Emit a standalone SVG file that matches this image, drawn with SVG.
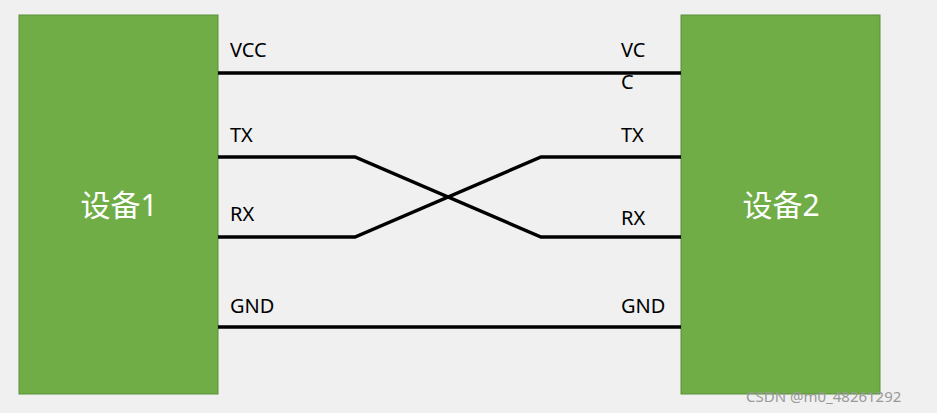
<svg xmlns="http://www.w3.org/2000/svg" width="937" height="413" viewBox="0 0 937 413">
<style>
.box{fill:#70ad47;stroke:#5a8f38;stroke-width:1}
.w{fill:none;stroke:#000;stroke-width:3.5}
.t{font-family:"Noto Sans","Noto Sans CJK SC",sans-serif;font-size:20px;fill:#000}
.d{font-family:"Noto Sans","Noto Sans CJK SC",sans-serif;font-size:30px;fill:#fff;text-anchor:middle}
.wm{font-family:"Noto Sans","Noto Sans CJK SC",sans-serif;font-size:15px;fill:#999}
</style>
<rect width="937" height="413" fill="#f0f0f0"/>
<g id="dev1"><rect class="box" x="19" y="15" width="199" height="379"/><text class="d" x="119" y="216">设备1</text></g>
<g id="dev2"><rect class="box" x="681" y="15" width="199" height="379"/><text class="d" x="781" y="216">设备2</text></g>
<g id="connectors">
<path class="w" d="M218 73H681"/>
<path class="w" d="M218 157H355L541 237H681"/>
<path class="w" d="M218 237H355L541 157H681"/>
<path class="w" d="M218 327H681"/>
</g>
<g id="labels">
<text class="t" x="230" y="57">VCC</text>
<text class="t" x="621" y="57">VC</text>
<text class="t" x="621" y="89">C</text>
<text class="t" x="230" y="142">TX</text>
<text class="t" x="621" y="142">TX</text>
<text class="t" x="230" y="221">RX</text>
<text class="t" x="621" y="225">RX</text>
<text class="t" x="230" y="313">GND</text>
<text class="t" x="621" y="313">GND</text>
</g>
<text class="wm" x="746" y="402">CSDN @m0_48261292</text>
</svg>
